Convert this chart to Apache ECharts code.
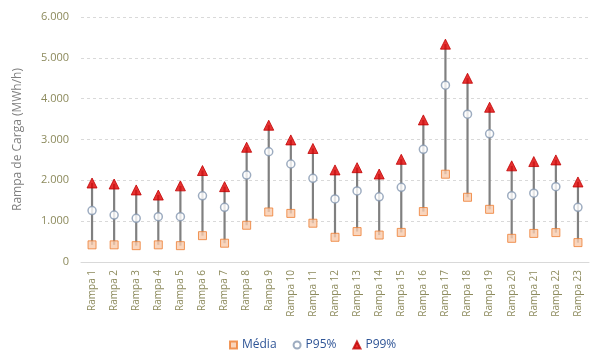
<!DOCTYPE html>
<html><head><meta charset="utf-8">
<script src="https://cdn.jsdelivr.net/npm/echarts@6/dist/echarts.min.js"></script>
<style>html,body{margin:0;padding:0;background:#fff}#c{width:601px;height:356px}</style>
</head><body><div id="c"></div>
<script>
const categories = ["Rampa 1","Rampa 2","Rampa 3","Rampa 4","Rampa 5","Rampa 6","Rampa 7","Rampa 8","Rampa 9","Rampa 10","Rampa 11","Rampa 12","Rampa 13","Rampa 14","Rampa 15","Rampa 16","Rampa 17","Rampa 18","Rampa 19","Rampa 20","Rampa 21","Rampa 22","Rampa 23"];
const media = [420,420,400,420,400,645,460,900,1225,1190,950,605,745,660,725,1235,2150,1585,1290,580,700,720,475];
const p95 = [1260,1150,1070,1110,1110,1620,1340,2130,2700,2400,2050,1545,1740,1595,1830,2760,4330,3620,3140,1625,1685,1845,1340];
const p99 = [1935,1910,1765,1640,1865,2240,1845,2810,3350,2990,2780,2255,2310,2155,2515,3480,5335,4500,3790,2355,2460,2500,1960];
const yTicks = [0,1000,2000,3000,4000,5000,6000];

const chart = echarts.init(document.getElementById('c'), null, {renderer:'canvas'});
const labelColor = '#8c8a5c';
const rangeData = categories.map((c,i)=>[i, media[i], p99[i]]);
chart.setOption({
  animation:false,
  grid:{left:81,right:12,top:17,bottom:94},
  legend:{
    bottom:0, left:224, itemGap:16, itemWidth:7, itemHeight:7,
    textStyle:{color:'#2f5597', fontSize:12, fontFamily:'Open Sans'},
    data:[
      {name:'Média', icon:'rect'},
      {name:'P95%', icon:'circle'},
      {name:'P99%', icon:'triangle'}
    ]
  },
  xAxis:{
    type:'category', data:categories,
    axisLine:{lineStyle:{color:'#d9d9d9'}},
    axisTick:{show:false},
    axisLabel:{rotate:90, interval:0, color:labelColor, fontSize:10, fontFamily:'Open Sans', margin:8}
  },
  yAxis:{
    type:'value', min:0, max:6000, interval:1000,
    name:'Rampa de Carga (MWh/h)', nameLocation:'middle', nameGap:57,
    nameTextStyle:{color:'#7f7f7f', fontSize:12, fontFamily:'Open Sans'},
    axisLabel:{color:labelColor, fontSize:11, fontFamily:'Open Sans', margin:12,
      formatter:v=> yTicks.includes(v) ? (v===0?'0':(v/1000).toFixed(0)+'.000') : ''},
    axisLine:{show:false}, axisTick:{show:false},
    splitLine:{lineStyle:{color:'#d9d9d9', type:[3,3]}}
  },
  series:[
    {
      type:'custom', name:'range', silent:true, z:1,
      renderItem:(params, api)=>{
        const a = api.coord([api.value(0), api.value(1)]);
        const b = api.coord([api.value(0), api.value(2)]);
        return {type:'line', shape:{x1:a[0],y1:a[1],x2:b[0],y2:b[1]}, style:{stroke:'#808080', lineWidth:2.2}};
      },
      encode:{x:0, y:[1,2]},
      data:rangeData
    },
    {name:'Média', type:'scatter', data:media, symbol:'rect', symbolSize:8, z:3,
      itemStyle:{color:'#f8cbad', borderColor:'#ed7d31', borderWidth:1}},
    {name:'P95%', type:'scatter', data:p95, symbol:'circle', symbolSize:8, z:3,
      itemStyle:{color:'#ffffff', borderColor:'#8497b0', borderWidth:1.5}},
    {name:'P99%', type:'scatter', data:p99, symbol:'triangle', symbolSize:10, z:3,
      itemStyle:{color:'#e00000', borderColor:'#c00000', borderWidth:1}}
  ]
});
</script></body></html>
